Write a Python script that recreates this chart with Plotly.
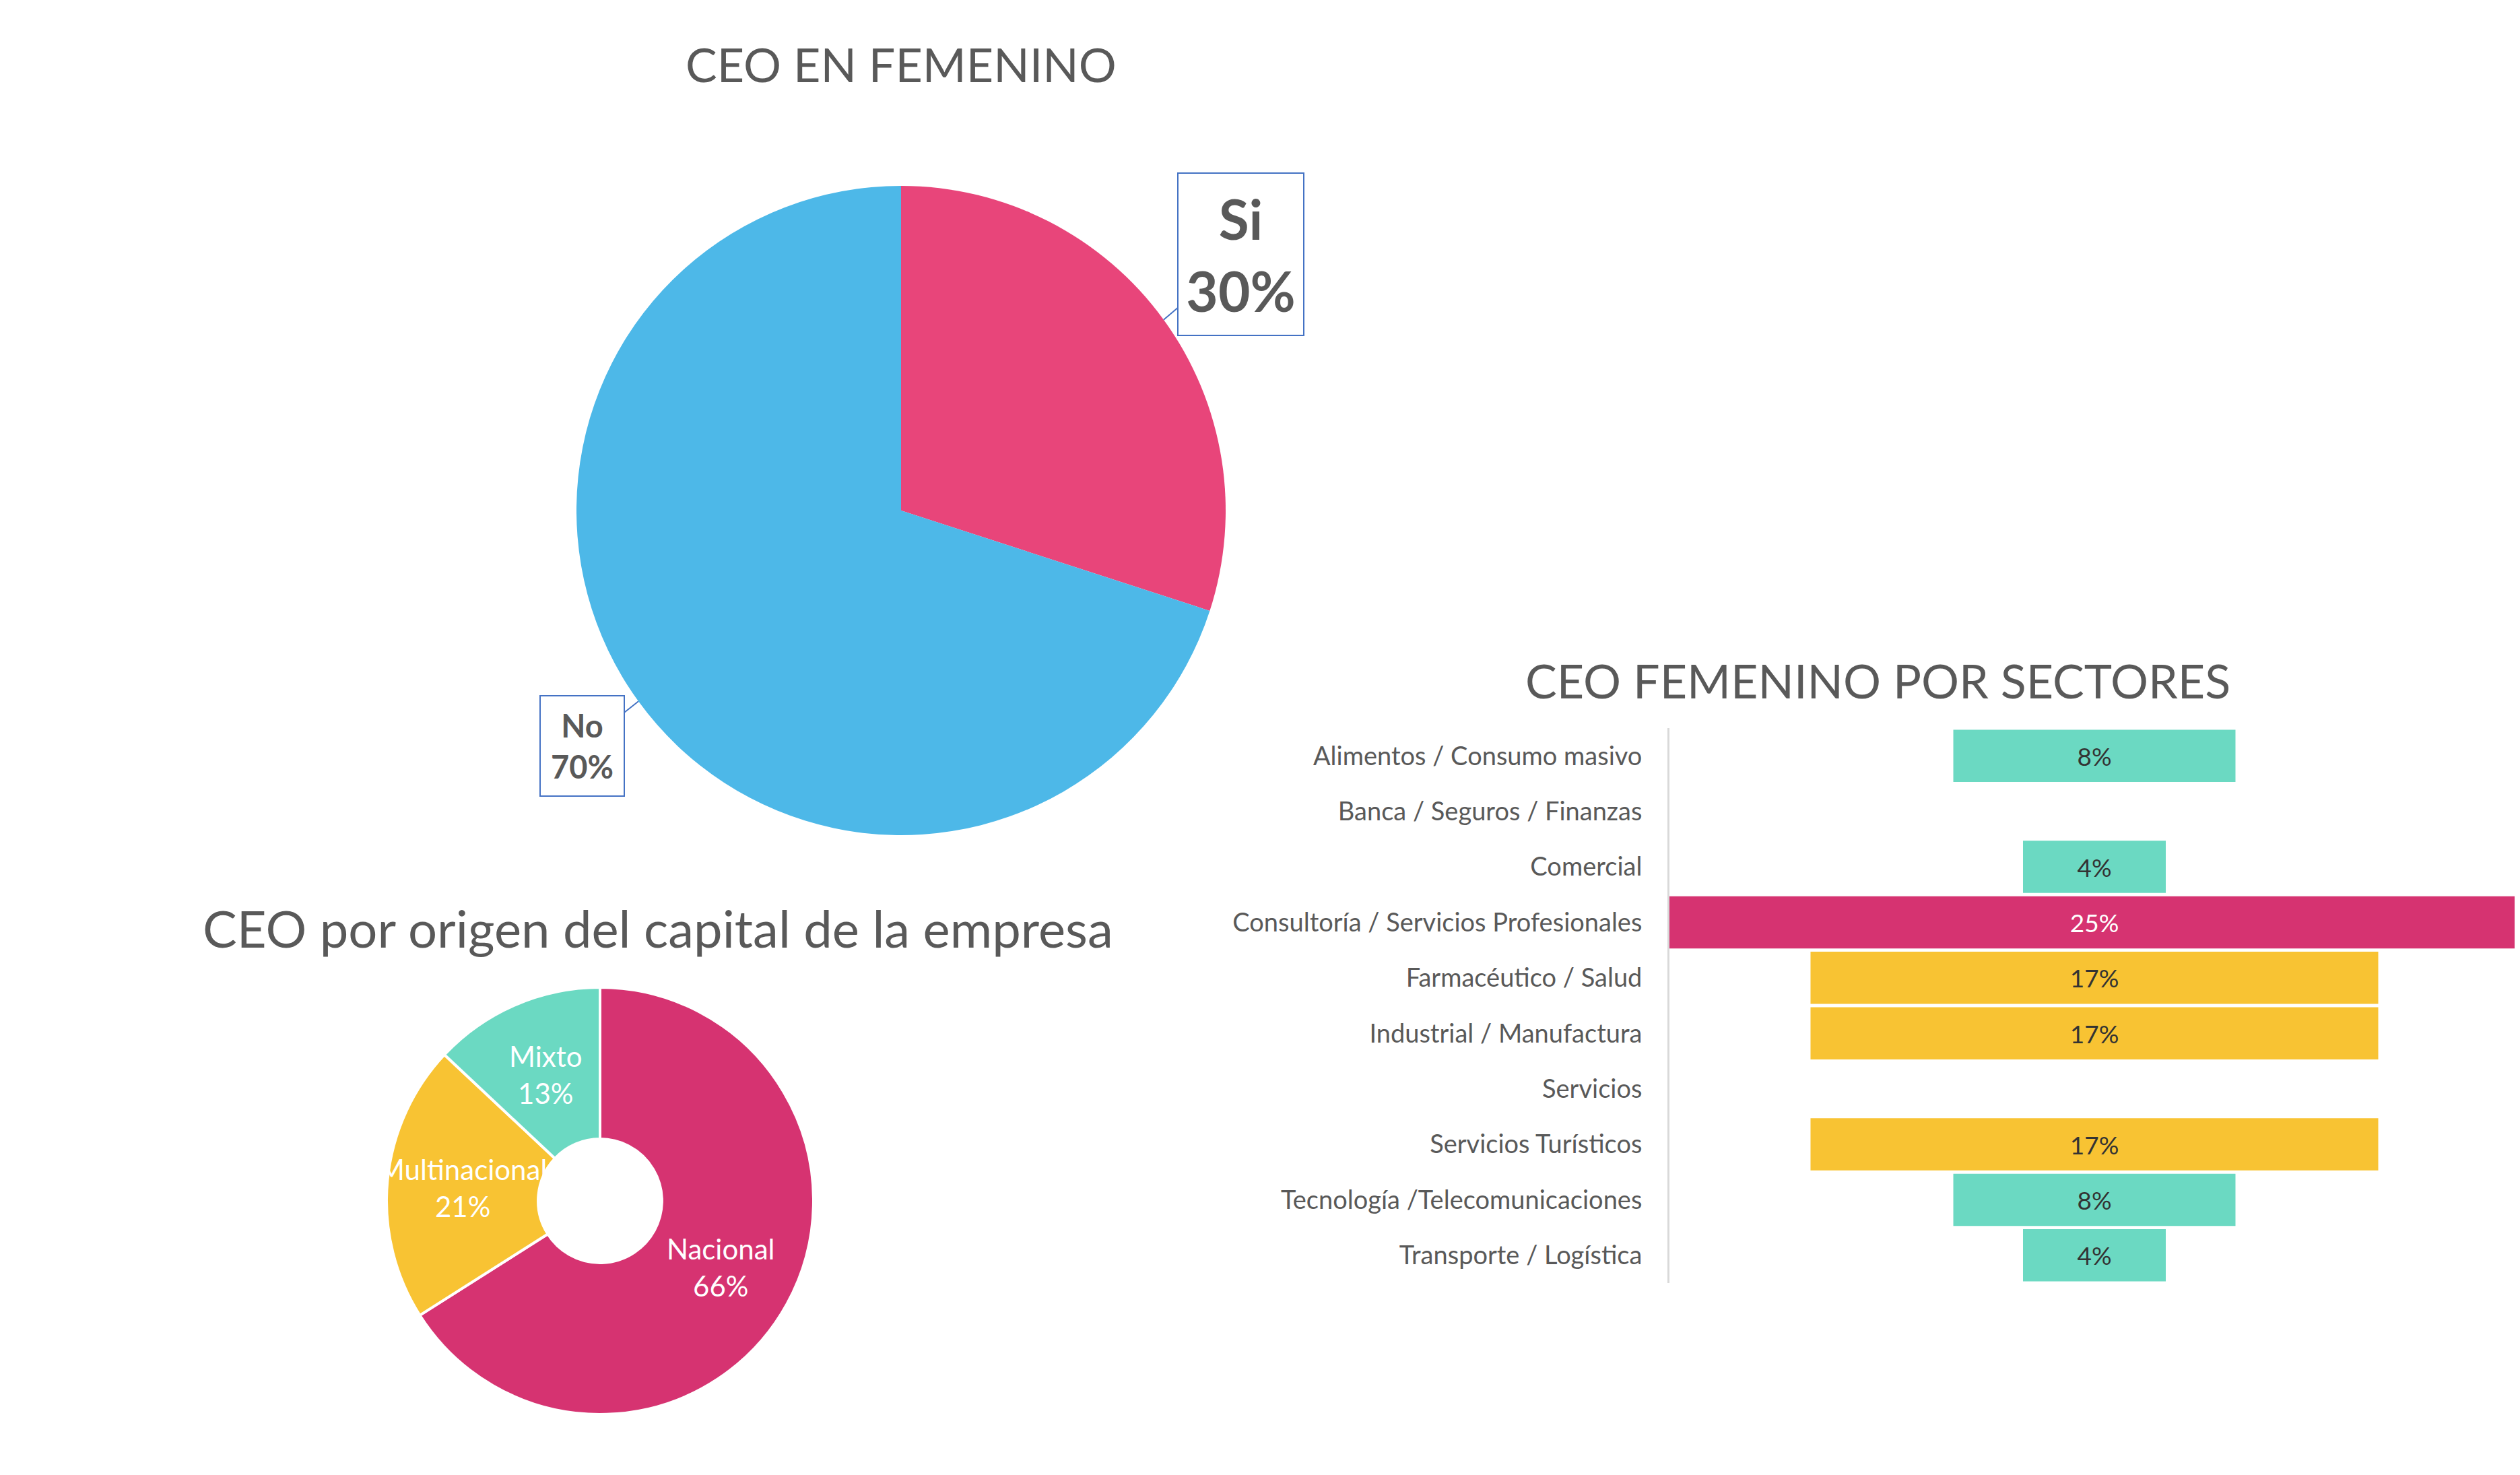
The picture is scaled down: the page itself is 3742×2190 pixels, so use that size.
import math
import plotly.graph_objects as go

# CEO en femenino
ceo_labels = ["Si", "No"]
ceo_values = [30, 70]

# CEO por origen del capital
origen_labels = ["Nacional", "Multinacional", "Mixto"]
origen_values = [66, 21, 13]

# CEO femenino por sectores (%)
sectores = [
    "Alimentos / Consumo masivo",
    "Banca / Seguros / Finanzas",
    "Comercial",
    "Consultoría / Servicios Profesionales",
    "Farmacéutico / Salud",
    "Industrial / Manufactura",
    "Servicios",
    "Servicios Turísticos",
    "Tecnología /Telecomunicaciones",
    "Transporte / Logística",
]
sector_pct = [8.3, 0, 4.2, 25, 16.7, 16.7, 0, 16.7, 8.3, 4.2]

W, H = 3742, 2190
FONT = "Lato"
GREY = "#595959"
PINK = "#E8457A"
BLUE = "#4DB8E8"
MAGENTA = "#D63371"
YELLOW = "#F8C333"
TEAL = "#6BD9C2"


def px(x):
    return x / W


def py(y):
    return 1 - y / H


def mid_points(values, cx, cy, r):
    # point at slice mid-angle, clockwise from 12 o'clock
    total = sum(values)
    pts, acc = [], 0
    for v in values:
        a = 2 * math.pi * (acc + v / 2) / total
        pts.append((cx + r * math.sin(a), cy - r * math.cos(a)))
        acc += v
    return pts


fig = go.Figure()

# --- pie: CEO EN FEMENINO
pie_c, pie_r = (1330, 750), 482
fig.add_trace(go.Pie(
    labels=ceo_labels, values=ceo_values, sort=False, direction="clockwise",
    marker=dict(colors=[PINK, BLUE]), textinfo="none", showlegend=False,
    domain=dict(x=[px(pie_c[0] - pie_r), px(pie_c[0] + pie_r)],
                y=[py(pie_c[1] + pie_r), py(pie_c[1] - pie_r)]),
))

# --- donut: origen del capital
don_c, don_r, hole = (883, 1775), 317, 0.29
fig.add_trace(go.Pie(
    labels=origen_labels, values=origen_values, sort=False, direction="clockwise",
    hole=hole, marker=dict(colors=[MAGENTA, YELLOW, TEAL], line=dict(color="white", width=4)),
    textinfo="none", showlegend=False,
    domain=dict(x=[px(don_c[0] - don_r), px(don_c[0] + don_r)],
                y=[py(don_c[1] + don_r), py(don_c[1] - don_r)]),
))


def bar_color(v):
    if v >= 20:
        return MAGENTA
    if v >= 10:
        return YELLOW
    return TEAL


fig.add_trace(go.Funnel(
    y=sectores, x=sector_pct,
    text=[f"{v:.0f}%" if v else "" for v in sector_pct],
    textinfo="text", textposition="inside",
    insidetextfont=dict(family=FONT, size=37,
                        color=["white" if v >= 20 else "#333333" for v in sector_pct]),
    marker=dict(color=[bar_color(v) for v in sector_pct]),
    connector=dict(visible=False), showlegend=False,
))

annotations = []

# callouts on the pie
callout_offsets = [(115, -97), (-84, 66)]
callout_sizes = [(82, 177, 231), (47, 115, 139)]
for lab, val, (tx, ty), (dx, dy), (fs, bw, bh) in zip(
        ceo_labels, ceo_values, mid_points(ceo_values, *pie_c, pie_r),
        callout_offsets, callout_sizes):
    annotations.append(dict(
        x=px(tx), y=py(ty), xref="paper", yref="paper",
        xanchor="center", yanchor="middle",
        text=f"<b>{lab}</b><br><b>{val}%</b>",
        showarrow=True, arrowhead=0, arrowwidth=2, arrowcolor="#4472C4",
        ax=dx, ay=dy, width=bw, height=bh, borderpad=4,
        bordercolor="#4472C4", borderwidth=2, bgcolor="white",
        font=dict(family=FONT, size=fs, color=GREY),
    ))

# labels on the donut ring
ring_r = don_r * (1 + hole) / 2
for lab, val, (tx, ty) in zip(origen_labels, origen_values,
                              mid_points(origen_values, *don_c, ring_r)):
    annotations.append(dict(
        x=px(tx), y=py(ty), xref="paper", yref="paper", showarrow=False,
        xanchor="center", yanchor="middle",
        text=f"{lab}<br>{val}%", font=dict(family=FONT, size=42, color="white"),
    ))

# titles
for text, size, x, y in [("CEO EN FEMENINO", 70, 1330, 87),
                         ("CEO por origen del capital de la empresa", 76, 969, 1369),
                         ("CEO FEMENINO POR SECTORES", 70, 2780, 1002)]:
    annotations.append(dict(
        x=px(x), y=py(y), xref="paper", yref="paper", showarrow=False,
        xanchor="center", yanchor="middle",
        text=text, font=dict(family=FONT, size=size, color=GREY),
    ))

fig.update_layout(
    width=W, height=H, margin=dict(l=0, r=0, t=0, b=0),
    paper_bgcolor="white", plot_bgcolor="white",
    font=dict(family=FONT, color=GREY),
    funnelgap=0.06,
    xaxis=dict(domain=[px(2471), px(3733)], range=[-12.5, 12.5], visible=False),
    yaxis=dict(domain=[py(1897), py(1073)], autorange="reversed",
               showline=True, linecolor="#D9D9D9", linewidth=3,
               ticks="", ticklabelstandoff=30, showgrid=False,
               tickfont=dict(family=FONT, size=38, color=GREY)),
    annotations=annotations,
)

fig.write_html("out.html")
